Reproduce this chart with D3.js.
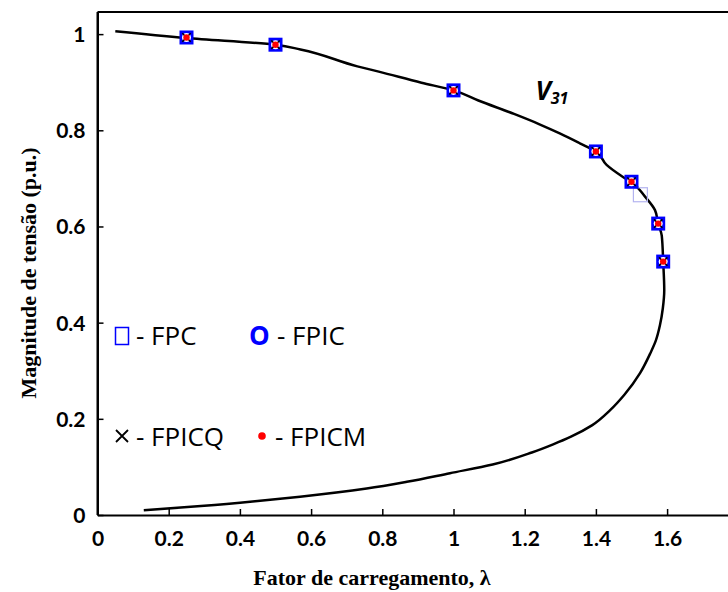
<!DOCTYPE html>
<html><head><meta charset="utf-8">
<script src="https://cdn.jsdelivr.net/npm/d3@7"></script>
<style>body{margin:0;background:#fff}svg{display:block}</style>
</head><body>
<svg id="c" width="728" height="592"></svg>
<script>
// PV curve (V31) points: loading factor and voltage
const curveLambda = [0.05,0.25,0.50,0.57,0.73,0.79,0.91,1.00,1.07,1.17,1.24,1.30,1.355,1.40,1.43,1.476,1.50,1.538,1.566,1.575,1.585,1.589,1.592,1.588,1.580,1.568,1.552,1.524,1.480,1.440,1.390,1.330,1.280,1.220,1.110,0.990,0.869,0.756,0.569,0.450,0.300,0.130];
const curveV      = [1.006,0.992,0.978,0.968,0.933,0.922,0.899,0.883,0.862,0.834,0.813,0.793,0.773,0.756,0.728,0.703,0.692,0.662,0.634,0.606,0.581,0.527,0.468,0.430,0.395,0.362,0.335,0.295,0.250,0.218,0.187,0.163,0.147,0.130,0.105,0.087,0.069,0.055,0.038,0.029,0.019,0.010];
// method markers (FPC, FPIC, FPICQ, FPICM coincide)
const markerLambda = [0.25,0.50,1.00,1.40,1.50,1.575,1.589];
const markerV      = [0.993,0.978,0.883,0.756,0.693,0.606,0.527];
// stray faint FPC square
const strayLambda = [1.525];
const strayV      = [0.666];
const xTicks = [0,0.2,0.4,0.6,0.8,1,1.2,1.4,1.6];
const yTicks = [0,0.2,0.4,0.6,0.8,1];

const svg = d3.select('#c');
const x = d3.scaleLinear().domain([0,1.8]).range([97.5,738.3]);
const y = d3.scaleLinear().domain([0,1.046]).range([515,12]);

// axes
const fmt = d => d===0?'0':(d===1?'1':d3.format('.1f')(d));
const xa = svg.append('g').attr('transform','translate(0,515)')
  .call(d3.axisBottom(x).tickValues(xTicks).tickSizeInner(-6).tickSizeOuter(0).tickPadding(16).tickFormat(fmt));
const ya = svg.append('g').attr('transform','translate(97.5,0)')
  .call(d3.axisLeft(y).tickValues(yTicks).tickSizeInner(-6).tickSizeOuter(0).tickPadding(12).tickFormat(fmt));
[xa,ya].forEach(a=>{
  a.select('.domain').attr('stroke','#000').attr('stroke-width',2);
  a.selectAll('.tick line').attr('stroke','#000').attr('stroke-width',1.5);
  a.selectAll('.tick text').attr('fill','#000').style('font-family','Lato, "Open Sans", sans-serif').style('font-weight','bold').style('font-size','21px');
});
xa.selectAll('.tick text').attr('dy','0.71em');
ya.selectAll('.tick text').attr('dy','0.35em');
// frame: top and left lines
svg.append('line').attr('x1',x(0)).attr('x2',728).attr('y1',y(1.046)).attr('y2',y(1.046)).attr('stroke','#000').attr('stroke-width',2);
svg.append('line').attr('x1',x(0)).attr('x2',x(0)).attr('y1',y(1.046)).attr('y2',y(0)).attr('stroke','#000').attr('stroke-width',2);

// curve (voltage decreases monotonically along the path -> monotoneY on reversed order)
const pts = curveLambda.map((l,i)=>[l,curveV[i]]).reverse();
svg.append('path').datum(pts)
  .attr('d', d3.line().x(d=>x(d[0])).y(d=>y(d[1])).curve(d3.curveMonotoneY))
  .attr('fill','none').attr('stroke','#000').attr('stroke-width',2.5);

// stray square
svg.selectAll('.stray').data(strayLambda.map((l,i)=>[l,strayV[i]])).enter().append('rect')
  .attr('x',d=>x(d[0])-7).attr('y',d=>y(d[1])-7).attr('width',14).attr('height',14)
  .attr('fill','none').attr('stroke','#b4b4f0').attr('stroke-width',1.2);

// markers
const mk = svg.selectAll('.mk').data(markerLambda.map((l,i)=>[l,markerV[i]])).enter().append('g')
  .attr('transform',d=>`translate(${x(d[0])},${y(d[1])})`);
mk.append('rect').attr('x',-7).attr('y',-7).attr('width',14).attr('height',14).attr('fill','#0000ff');
mk.append('circle').attr('r',4.5).attr('fill','#fff');
mk.append('path').attr('d','M-4.2,-4.2L4.2,4.2M-4.2,4.2L4.2,-4.2').attr('stroke','#000').attr('stroke-width',1.5);
mk.append('circle').attr('r',3.2).attr('fill','#ff0000');

// V31 label
const lab = svg.append('text').attr('x',x(1.23)).attr('y',y(0.862))
  .style('font-family','"Open Sans", sans-serif').style('font-weight','bold').style('font-style','italic').attr('fill','#000');
lab.append('tspan').style('font-size','26px').text('V');
lab.append('tspan').style('font-size','16px').attr('dy',4).text('31');

// legend
const lf = '"Open Sans", Lato, sans-serif';
const ls = '26px';
svg.append('rect').attr('x',115.5).attr('y',327.5).attr('width',13).attr('height',17).attr('fill','none').attr('stroke','#0000ff').attr('stroke-width',1.5);
svg.append('text').attr('x',136).attr('y',345).style('font-family',lf).style('font-size',ls).text('- FPC');
svg.append('text').attr('x',249).attr('y',345).style('font-family',lf).style('font-size',ls).style('font-weight','bold').attr('fill','#0000ff').text('O');
svg.append('text').attr('x',277).attr('y',345).style('font-family',lf).style('font-size',ls).text('- FPIC');
svg.append('path').attr('d','M116,430L128,442M116,442L128,430').attr('stroke','#000').attr('stroke-width',1.8);
svg.append('text').attr('x',136).attr('y',446).style('font-family',lf).style('font-size',ls).text('- FPICQ');
svg.append('circle').attr('cx',262).attr('cy',436).attr('r',3.8).attr('fill','#ff0000');
svg.append('text').attr('x',275).attr('y',446).style('font-family',lf).style('font-size',ls).text('- FPICM');

// axis titles
svg.append('text').attr('x',372).attr('y',585).attr('text-anchor','middle')
  .style('font-family','"Liberation Serif", serif').style('font-weight','bold').style('font-size','22px').text('Fator de carregamento, \u03bb');
svg.append('text').attr('transform','translate(36,273) rotate(-90)').attr('text-anchor','middle')
  .style('font-family','"Liberation Serif", serif').style('font-weight','bold').style('font-size','22px').text('Magnitude de tensão (p.u.)');
</script>
</body></html>
